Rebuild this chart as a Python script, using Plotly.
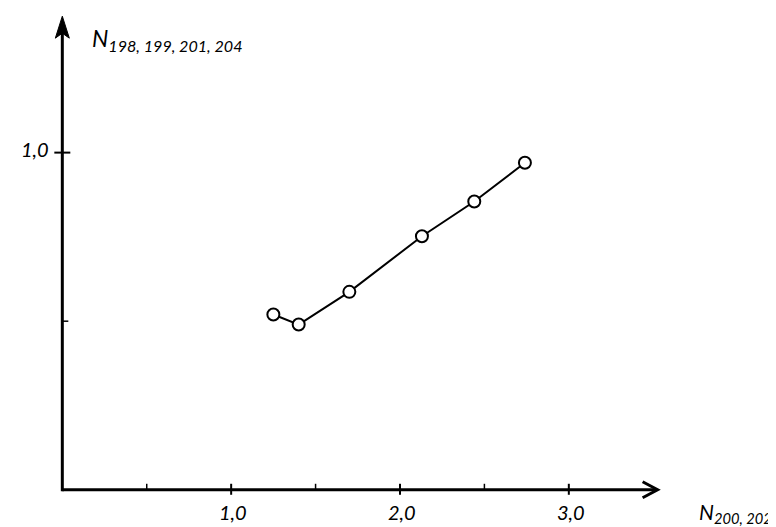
import plotly.graph_objects as go

# data
x_vals = [1.25, 1.40, 1.70, 2.13, 2.44, 2.74]
y_vals = [0.52, 0.49, 0.587, 0.752, 0.855, 0.970]

x_major = [1, 2, 3]
x_major_labels = ["1,0", "2,0", "3,0"]
x_minor = [0.5, 1.5, 2.5]
y_major = [1.0]
y_major_labels = ["1,0"]
y_minor = [0.5]

FONT = "Lato"
W, H = 776, 527
X0_PX, Y0_PX = 54.0, 482.0   # pixel of the origin
PX_X = 169.0                 # pixels per x unit
PX_Y = 337.5                 # pixels per y unit
XR = [-0.15, 3.70]
YR = [-0.06, 1.42]

left = X0_PX + XR[0] * PX_X
right = X0_PX + XR[1] * PX_X
bottom = Y0_PX - YR[0] * PX_Y
top = Y0_PX - YR[1] * PX_Y


def pxx(p):
    return (p - left) / (right - left)


def pxy(p):
    return (bottom - p) / (bottom - top)


fig = go.Figure()
fig.add_trace(go.Scatter(
    x=x_vals, y=y_vals, mode="lines+markers",
    line=dict(color="black", width=2),
    marker=dict(symbol="circle", size=12, color="white",
                line=dict(color="black", width=2)),
    cliponaxis=False, showlegend=False, hoverinfo="skip",
))

shapes = []
x_end = 3.52
y_end = 1.375
shapes.append(dict(type="line", xref="x", yref="y", x0=0, y0=0, x1=x_end, y1=0,
                   line=dict(color="black", width=3)))
shapes.append(dict(type="line", xref="x", yref="y", x0=0, y0=-1.5 / PX_Y, x1=0, y1=y_end,
                   line=dict(color="black", width=3)))
# x arrow chevron
shapes.append(dict(type="path", xref="x", yref="y",
                   path=f"M {x_end - 14/PX_X},{8/PX_Y} L {x_end + 1/PX_X},0 L {x_end - 14/PX_X},{-8/PX_Y}",
                   line=dict(color="black", width=3)))
# y arrow head (filled)
shapes.append(dict(type="path", xref="x", yref="y",
                   path=(f"M {-7/PX_X},{y_end - 12/PX_Y} L 0,{y_end + 10/PX_Y} "
                         f"L {7/PX_X},{y_end - 12/PX_Y} L 0,{y_end - 7/PX_Y} Z"),
                   fillcolor="black", line=dict(color="black", width=1)))
# ticks
for v in x_major:
    shapes.append(dict(type="line", xref="x", yref="y", x0=v, x1=v,
                       y0=-5 / PX_Y, y1=6 / PX_Y, line=dict(color="black", width=2)))
for v in x_minor:
    shapes.append(dict(type="line", xref="x", yref="y", x0=v, x1=v,
                       y0=0, y1=6 / PX_Y, line=dict(color="black", width=1.5)))
for v in y_major:
    shapes.append(dict(type="line", xref="x", yref="y", y0=v, y1=v,
                       x0=-8 / PX_X, x1=8 / PX_X, line=dict(color="black", width=2)))
for v in y_minor:
    shapes.append(dict(type="line", xref="x", yref="y", y0=v, y1=v,
                       x0=0, x1=6 / PX_X, line=dict(color="black", width=1.5)))

tick_font = dict(family=FONT, size=20, style="italic", color="black")
annotations = []
for v, t in zip(x_major, x_major_labels):
    annotations.append(dict(xref="x", yref="y", x=v, y=0, xanchor="center", yanchor="top",
                            yshift=-8, xshift=2, showarrow=False, text=t, font=tick_font))
for v, t in zip(y_major, y_major_labels):
    annotations.append(dict(xref="x", yref="y", x=0, y=v, xanchor="right", yanchor="middle",
                            xshift=-11, yshift=4, showarrow=False, text=t, font=tick_font))

annotations += [
    dict(xref="paper", yref="paper", x=pxx(82), y=pxy(31),
         xanchor="left", yanchor="middle", showarrow=False,
         text="N<sub>198, 199, 201, 204</sub>",
         font=dict(family=FONT, size=23, style="italic", color="black")),
    dict(xref="paper", yref="paper", x=pxx(689), y=pxy(505),
         xanchor="left", yanchor="middle", showarrow=False,
         text="N<sub>200, 202</sub>",
         font=dict(family=FONT, size=21, style="italic", color="black")),
]

fig.update_layout(
    width=W, height=H,
    margin=dict(l=left, r=W - right, t=top, b=H - bottom, pad=0),
    paper_bgcolor="white", plot_bgcolor="white",
    shapes=shapes, annotations=annotations,
    xaxis=dict(range=XR, visible=False, fixedrange=True),
    yaxis=dict(range=YR, visible=False, fixedrange=True),
)

fig.write_html("out.html", config={"displayModeBar": False})
